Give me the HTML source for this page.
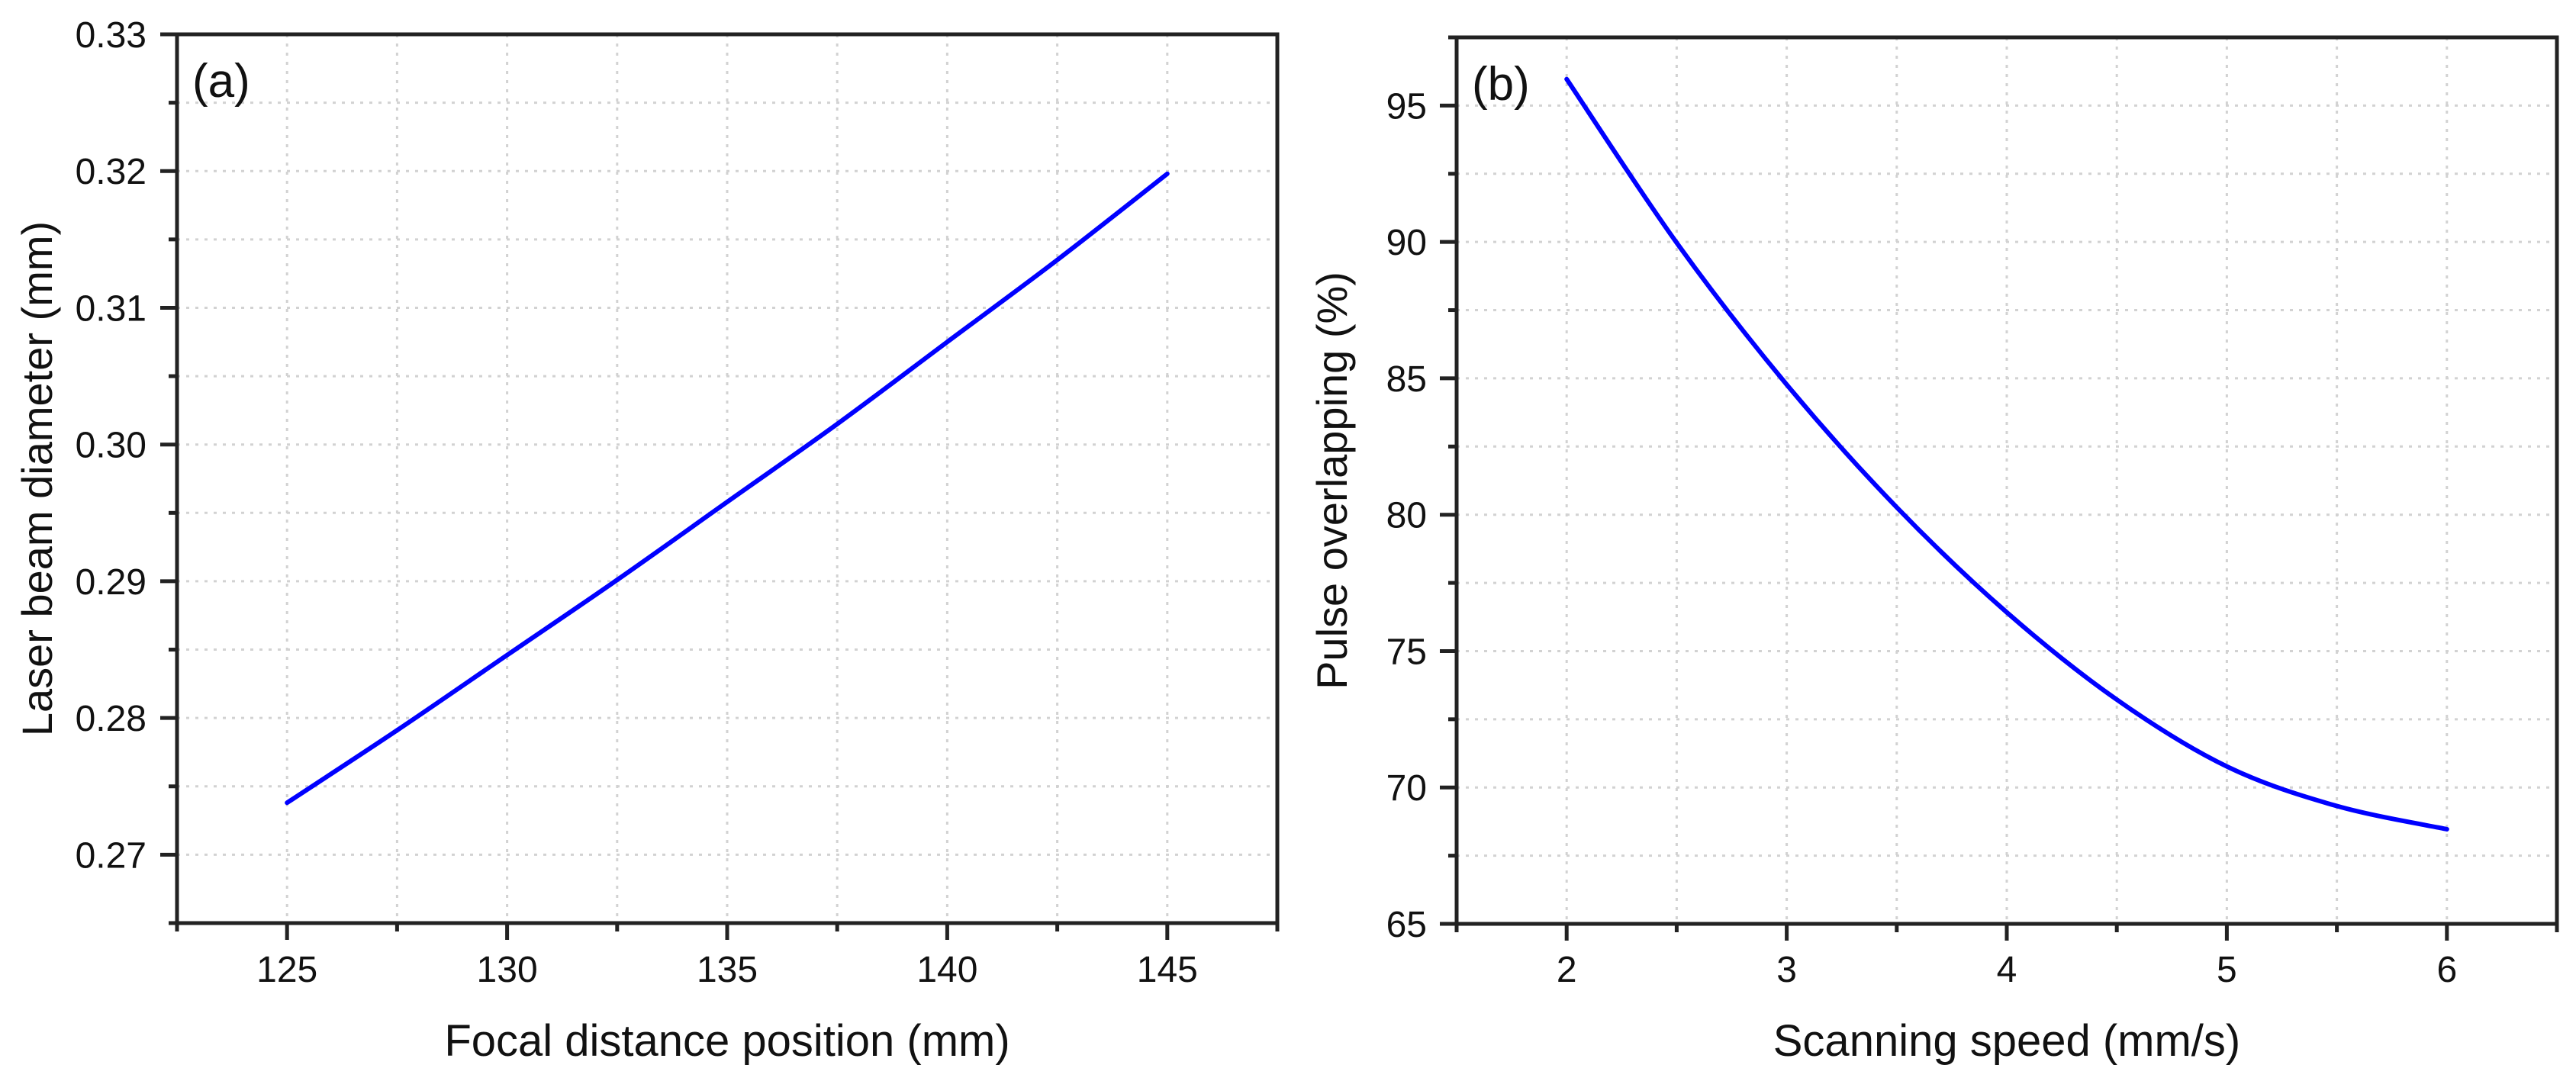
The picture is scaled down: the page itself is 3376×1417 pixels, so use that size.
<!DOCTYPE html>
<html><head><meta charset="utf-8"><style>
html,body{margin:0;padding:0;background:#fff;}
svg{display:block;font-family:"Liberation Sans",Arial,sans-serif;}
</style></head><body>
<svg id="fig" width="3376" height="1417" viewBox="0 0 3376 1417" xmlns="http://www.w3.org/2000/svg">
<rect width="3376" height="1417" fill="#fff"/>
<g id="pa"></g>
<g id="pb"></g>
</svg>
<script>
// Panel (a) data
const aX = [125, 127.5, 130, 132.5, 135, 137.5, 140, 142.5, 145];
const aY = [0.2738, 0.2791, 0.2846, 0.2901, 0.2958, 0.3015, 0.3075, 0.3135, 0.3198];
const aXTicks = [125, 130, 135, 140, 145];
const aYTicks = [0.27, 0.28, 0.29, 0.30, 0.31, 0.32, 0.33];
// Panel (b) data
const bX = [2, 2.5, 3, 3.5, 4, 4.5, 5, 5.5, 6];
const bY = [95.97, 89.97, 84.77, 80.27, 76.42, 73.22, 70.77, 69.32, 68.47];
const bXTicks = [2, 3, 4, 5, 6];
const bYTicks = [65, 70, 75, 80, 85, 90, 95];

const NS = "http://www.w3.org/2000/svg";
function mk(tag, attrs, parent){
  const e = document.createElementNS(NS, tag);
  for (const k in attrs) e.setAttribute(k, attrs[k]);
  parent.appendChild(e); return e;
}
function panel(g, cfg){
  const {L,R,T,B,xmin,xmax,ymin,ymax,xMinorStep,yMinorStep,xs,ys,xt,yt,fmtY,xTitle,yTitle,tag,yTitleX,labelRight} = cfg;
  const sx = v => L + (v - xmin) / (xmax - xmin) * (R - L);
  const sy = v => B - (v - ymin) / (ymax - ymin) * (B - T);
  for (let v = xmin; v <= xmax + 1e-9; v += xMinorStep) {
    const x = sx(v); if (x <= L + 2 || x >= R - 2) continue;
    const l = mk('line', {x1:x, y1:T, x2:x, y2:B, stroke:'#d2d2d2', 'stroke-width':3, 'stroke-dasharray':'4 8'}, g);
    
    
  }
  for (let v = ymin; v <= ymax + 1e-9; v += yMinorStep) {
    const y = sy(v); if (y <= T + 2 || y >= B - 2) continue;
    const l = mk('line', {x1:L, y1:y, x2:R, y2:y, stroke:'#d2d2d2', 'stroke-width':3, 'stroke-dasharray':'4 8'}, g);
    
    
  }
  const fr = mk('rect', {x:L, y:T, width:R-L, height:B-T, fill:'none', stroke:'#222', 'stroke-width':5}, g);
  
  
  for (let v = xmin; v <= xmax + 1e-9; v += xMinorStep) {
    const x = sx(v);
    const major = xt.some(t => Math.abs(t - v) < 1e-6);
    const t = mk('line', {x1:x, y1:B, x2:x, y2:B + (major ? 22 : 11), stroke:'#222', 'stroke-width':5}, g);
    
    
  }
  xt.forEach(v => {
    const tx = mk('text', {x:sx(v), y:1287, 'font-size':48, 'text-anchor':'middle', fill:'#111'}, g);
    tx.textContent = String(v);
    
    
  });
  for (let v = ymin; v <= ymax + 1e-9; v += yMinorStep) {
    const y = sy(v);
    const major = yt.some(t => Math.abs(t - v) < 1e-6);
    const t = mk('line', {x1:L - (major ? 22 : 11), y1:y, x2:L, y2:y, stroke:'#222', 'stroke-width':5}, g);
    
    
  }
  yt.forEach(v => {
    const ty = mk('text', {x:labelRight, y:sy(v) + 17, 'font-size':48, 'text-anchor':'end', fill:'#111'}, g);
    ty.textContent = fmtY(v);
    
    
  });
  const xtl = mk('text', {x:(L+R)/2, y:1384, 'font-size':58, 'text-anchor':'middle', fill:'#111'}, g);
  xtl.textContent = xTitle;
  
  
  const ytl = mk('text', {x:0, y:0, 'font-size':56, 'text-anchor':'middle', fill:'#111', transform:`translate(${yTitleX},${(T+B)/2}) rotate(-90)`}, g);
  ytl.textContent = yTitle;
  
  
  const pl = mk('text', {x:L + 20, y:T + 82, 'font-size':62, fill:'#111'}, g);
  pl.textContent = tag;
  
  
  const P = xs.map((v, i) => [sx(v), sy(ys[i])]);
  let d = `M${P[0][0]},${P[0][1]}`;
  for (let i = 0; i < P.length - 1; i++) {
    const p0 = P[Math.max(0, i-1)], p1 = P[i], p2 = P[i+1], p3 = P[Math.min(P.length-1, i+2)];
    const c1 = [p1[0] + (p2[0]-p0[0])/6, p1[1] + (p2[1]-p0[1])/6];
    const c2 = [p2[0] - (p3[0]-p1[0])/6, p2[1] - (p3[1]-p1[1])/6];
    d += ` C${c1[0]},${c1[1]} ${c2[0]},${c2[1]} ${p2[0]},${p2[1]}`;
  }
  const path = mk('path', {d:d, fill:'none', stroke:'#0000ff', 'stroke-width':6, 'stroke-linecap':'round'}, g);
  
  
}
panel(document.getElementById('pa'), {
  L:232, R:1674, T:45, B:1210, xmin:122.5, xmax:147.5, ymin:0.265, ymax:0.33,
  xMinorStep:2.5, yMinorStep:0.005, xs:aX, ys:aY, xt:aXTicks, yt:aYTicks,
  fmtY: v => v.toFixed(2), xTitle:'Focal distance position (mm)', yTitle:'Laser beam diameter (mm)',
  tag:'(a)', yTitleX:68, labelRight:192
});
panel(document.getElementById('pb'), {
  L:1909, R:3351, T:49, B:1211, xmin:1.5, xmax:6.5, ymin:65, ymax:97.5,
  xMinorStep:0.5, yMinorStep:2.5, xs:bX, ys:bY, xt:bXTicks, yt:bYTicks,
  fmtY: v => String(v), xTitle:'Scanning speed (mm/s)', yTitle:'Pulse overlapping (%)',
  tag:'(b)', yTitleX:1765, labelRight:1870
});
</script>
</body></html>
